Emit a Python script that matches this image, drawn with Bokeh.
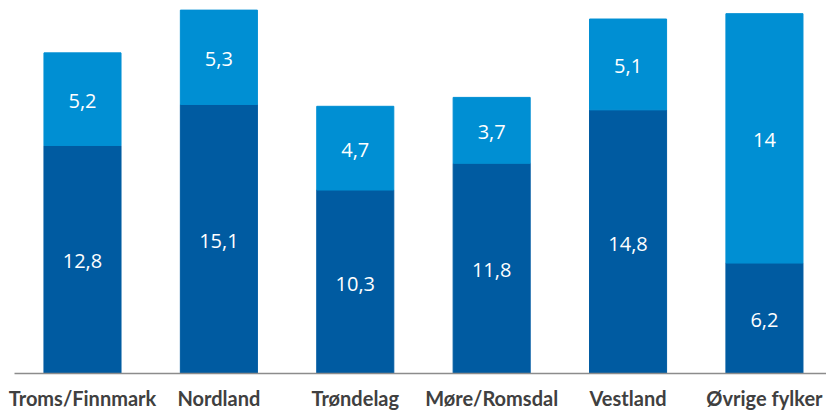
from bokeh.plotting import figure
from bokeh.models import ColumnDataSource, FixedTicker, Range1d
from bokeh.core.properties import value
from bokeh.embed import file_html
from bokeh.resources import INLINE

categories = ["Troms/Finnmark", "Nordland", "Trøndelag", "Møre/Romsdal", "Vestland", "Øvrige fylker"]
dark_values = [12.8, 15.1, 10.3, 11.8, 14.8, 6.2]
light_values = [5.2, 5.3, 4.7, 3.7, 5.1, 14.0]
dark_labels = ["12,8", "15,1", "10,3", "11,8", "14,8", "6,2"]
light_labels = ["5,2", "5,3", "4,7", "3,7", "5,1", "14"]

DARK = "#005BA1"
LIGHT = "#008FD3"

xs = list(range(len(categories)))
tops = [d + l for d, l in zip(dark_values, light_values)]
src = ColumnDataSource(dict(
    x=xs, dark=dark_values, top=tops,
    dark_mid=[d / 2 for d in dark_values],
    light_mid=[d + l / 2 for d, l in zip(dark_values, light_values)],
    dl=dark_labels, ll=light_labels,
))

p = figure(width=826, height=412, output_backend="svg", toolbar_location=None,
           x_range=Range1d(-0.4985, 5.455), y_range=Range1d(0, 20.94),
           min_border_left=14, min_border_right=0, min_border_top=0, min_border_bottom=35)
p.vbar(x="x", bottom=0, top="dark", width=0.565, color=DARK, source=src)
p.vbar(x="x", bottom="dark", top="top", width=0.565, color=LIGHT, source=src)

for col, ycol in (("dl", "dark_mid"), ("ll", "light_mid")):
    p.text(x="x", y=ycol, text=col, source=src, text_color="white",
           text_font=value("Open Sans"), text_font_size="20px",
           text_align="center", text_baseline="middle", y_offset=2)

p.yaxis.visible = False
p.xgrid.visible = False
p.ygrid.visible = False
p.outline_line_color = None
ax = p.xaxis[0]
ax.ticker = FixedTicker(ticks=xs)
ax.major_label_overrides = {i: c for i, c in enumerate(categories)}
ax.major_tick_line_color = None
ax.minor_tick_line_color = None
ax.axis_line_color = "#8C8C8C"
ax.axis_line_width = 1.5
ax.major_label_text_font = "Lato"
ax.major_label_text_font_style = "bold"
ax.major_label_text_font_size = "20px"
ax.major_label_text_color = "#404040"
ax.major_label_standoff = 6

open("out.html", "w").write(file_html(p, INLINE))
